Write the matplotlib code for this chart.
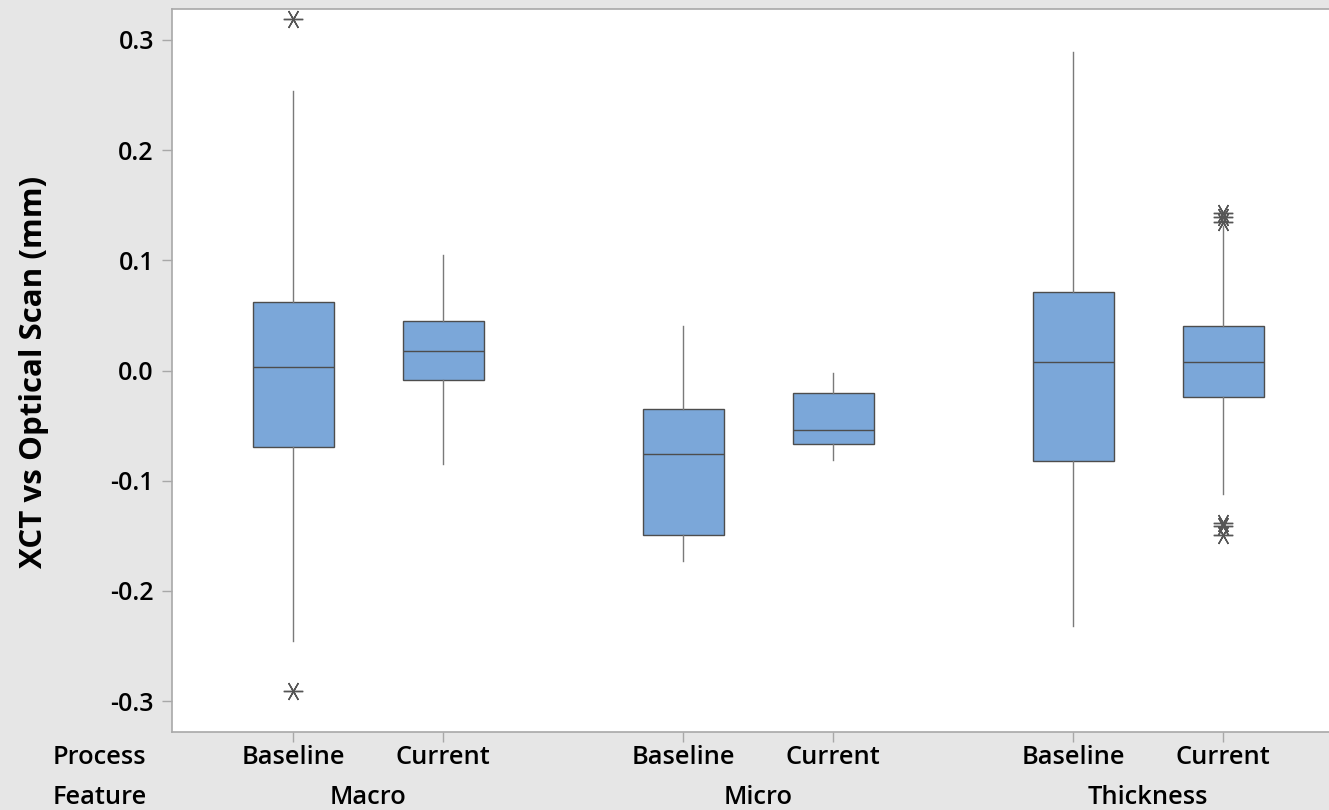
import numpy as np
import matplotlib.pyplot as plt
import matplotlib.transforms as mtransforms

# values (mm)
processes = ['Baseline', 'Current', 'Baseline', 'Current', 'Baseline', 'Current']
features = ['Macro', 'Micro', 'Thickness']
positions = [1.0, 2.0, 3.6, 4.6, 6.2, 7.2]

q1 = [-0.069, -0.009, -0.149, -0.067, -0.082, -0.0236]
med = [0.0036, 0.018, -0.076, -0.054, 0.0073, 0.0073]
q3 = [0.0617, 0.045, -0.0345, -0.020, 0.0708, 0.040]
whislo = [-0.245, -0.085, -0.173, -0.081, -0.232, -0.1125]
whishi = [0.254, 0.105, 0.040, -0.002, 0.289, 0.131]
fliers = [[0.319, -0.291], [], [], [], [],
          [0.1425, 0.139, 0.135, -0.138, -0.1415, -0.1497]]

stats = []
for i in range(len(positions)):
    stats.append(dict(q1=q1[i], med=med[i], q3=q3[i], whislo=whislo[i],
                      whishi=whishi[i], fliers=np.array(fliers[i])))

W, H = 1329, 810
fig = plt.figure(figsize=(W / 100, H / 100), dpi=100, facecolor='#e6e6e6')
ax = fig.add_axes([172 / W, (H - 732) / H, (W - 172) / W + 0.02, (732 - 9) / H])

font = 'Open Sans'

ax.bxp(stats, positions=positions, widths=0.54, patch_artist=True,
       boxprops=dict(facecolor='#7ba7d9', edgecolor='#4d4d4d', linewidth=1.0),
       medianprops=dict(color='#4d4d4d', linewidth=1.0),
       whiskerprops=dict(color='#7a7a7a', linewidth=1.0),
       capprops=dict(linewidth=0),
       flierprops=dict(marker=(6, 2, 90), markersize=14, markeredgecolor='#555555',
                       markeredgewidth=1.0, linestyle='none'),
       showcaps=False)

ax.set_xlim(0.193, 0.193 + (W - 172) / 150 + 0.02 * W / 150)
ax.set_ylim(-0.328, 0.328)
ax.set_yticks([-0.3, -0.2, -0.1, 0.0, 0.1, 0.2, 0.3])
ax.set_yticklabels(['-0.3', '-0.2', '-0.1', '0.0', '0.1', '0.2', '0.3'])
ax.set_xticks(positions)
ax.set_xticklabels([])

for s in ['top', 'left', 'bottom']:
    ax.spines[s].set_color('#a8a8a8')
    ax.spines[s].set_linewidth(1.2)
ax.spines['right'].set_visible(False)
ax.tick_params(axis='both', colors='#a8a8a8', length=7, width=1.0)
ax.tick_params(axis='y', labelcolor='black', labelsize=18, pad=6)
for lab in ax.get_yticklabels():
    lab.set_fontfamily(font)
    lab.set_fontweight('semibold')

fig.text(34 / W, (H - 372) / H, 'XCT vs Optical Scan (mm)', rotation=90,
         ha='center', va='center', fontsize=22.5, fontweight='bold', fontfamily=font)

# two-row categorical axis labels
trans = mtransforms.blended_transform_factory(ax.transData, fig.transFigure)
for p, name in zip(positions, processes):
    ax.text(p, (H - 757) / H, name, transform=trans, ha='center', va='center',
            fontsize=18.3, fontweight='semibold', fontfamily=font)
for i, name in enumerate(features):
    mid = (positions[2 * i] + positions[2 * i + 1]) / 2
    ax.text(mid, (H - 797) / H, name, transform=trans, ha='center', va='center',
            fontsize=18.3, fontweight='semibold', fontfamily=font)
fig.text(53 / W, (H - 757) / H, 'Process', ha='left', va='center',
         fontsize=18.3, fontweight='semibold', fontfamily=font)
fig.text(53 / W, (H - 797) / H, 'Feature', ha='left', va='center',
         fontsize=18.3, fontweight='semibold', fontfamily=font)

fig.savefig('out.png', dpi=100, facecolor=fig.get_facecolor())
